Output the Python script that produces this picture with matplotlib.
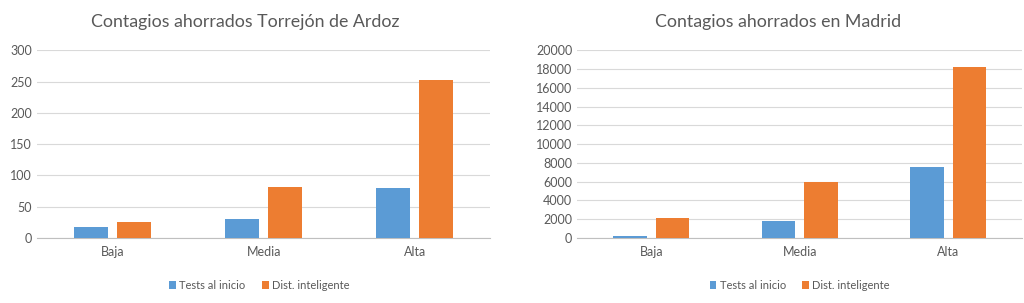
import numpy as np
import matplotlib.pyplot as plt

# ----- DATA -----
CATEGORIES = ["Baja", "Media", "Alta"]
SERIES = ["Tests al inicio", "Dist. inteligente"]
TORREJON_TESTS = [18, 30, 80]
TORREJON_DIST = [25, 82, 252]
MADRID_TESTS = [200, 1800, 7550]
MADRID_DIST = [2100, 5950, 18250]
# ----------------

BLUE = "#5B9BD5"
ORANGE = "#ED7D31"
TEXT = "#595959"
GRID = "#D9D9D9"

plt.rcParams['font.family'] = ['Lato', 'DejaVu Sans']


def draw_panel(ax, tests, dist, ymax, step, leg_x):
    x = np.arange(len(CATEGORIES))
    w = 0.225
    off = 0.142
    ax.bar(x - off, tests, w, color=BLUE, label=SERIES[0], zorder=3)
    ax.bar(x + off, dist, w, color=ORANGE, label=SERIES[1], zorder=3)
    ax.set_xlim(-0.5, len(CATEGORIES) - 0.5)
    ax.set_ylim(0, ymax)
    ax.set_yticks(np.arange(0, ymax + 1, step))
    ax.set_xticks(x)
    ax.set_xticklabels(CATEGORIES)
    ax.grid(axis='y', color=GRID, linewidth=0.8, zorder=0)
    for s in ['top', 'right', 'left']:
        ax.spines[s].set_visible(False)
    ax.spines['bottom'].set_color("#BFBFBF")
    ax.tick_params(axis='both', length=0, colors=TEXT, labelsize=9)
    ax.tick_params(axis='x', pad=6)
    ax.legend(loc='upper center', bbox_to_anchor=(leg_x, -0.17), ncol=2,
              frameon=False, fontsize=8, labelcolor=TEXT,
              handlelength=0.6, handleheight=0.7, handletextpad=0.3,
              columnspacing=1.5)


fig = plt.figure(figsize=(10.24, 3.03), dpi=100)
ax1 = fig.add_axes([0.036, 0.2145, 0.443, 0.619])
ax2 = fig.add_axes([0.5635, 0.2145, 0.435, 0.619])

draw_panel(ax1, TORREJON_TESTS, TORREJON_DIST, 300, 50, 0.49)
draw_panel(ax2, MADRID_TESTS, MADRID_DIST, 20000, 2000, 0.5)

fig.text(245 / 1024, 1 - 22 / 303, "Contagios ahorrados Torrejón de Ardoz",
         fontsize=12.8, color=TEXT, ha='center', va='center')
fig.text(778 / 1024, 1 - 22 / 303, "Contagios ahorrados en Madrid",
         fontsize=12.8, color=TEXT, ha='center', va='center')

fig.savefig("out.png", dpi=100)
